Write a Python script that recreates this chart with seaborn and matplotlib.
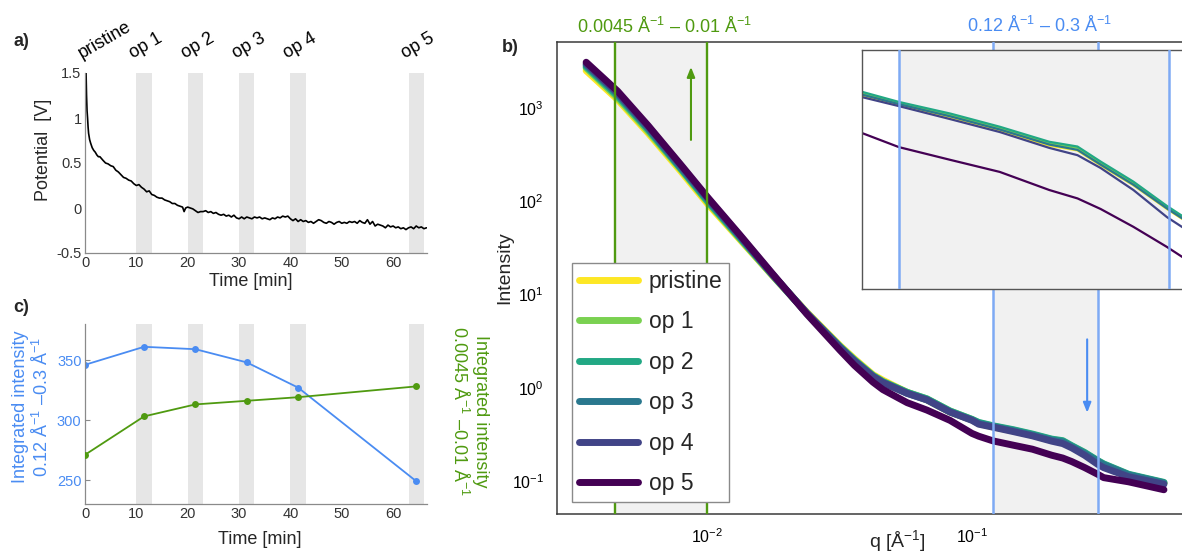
import numpy as np
import pandas as pd
import matplotlib
matplotlib.use("Agg")
import matplotlib.pyplot as plt
import matplotlib.transforms as mtransforms
from matplotlib.lines import Line2D
from matplotlib.ticker import (FixedLocator, FuncFormatter, LogLocator,
                               NullFormatter, LogFormatterSciNotation)
import seaborn as sns

sns.set_style("white")
plt.rcParams["font.family"] = ["Liberation Sans", "DejaVu Sans"]
plt.rcParams["mathtext.fontset"] = "custom"
plt.rcParams["mathtext.rm"] = "Liberation Sans"
plt.rcParams["mathtext.it"] = "Liberation Sans:italic"
plt.rcParams["mathtext.bf"] = "Liberation Sans:bold"
plt.rcParams["axes.unicode_minus"] = False

# ---------------- data ----------------
# (a) cell potential during the operation sequence
time_min = [0.2, 0.3, 0.4, 0.5, 0.6, 0.7, 0.9, 1.1, 1.4, 1.7, 2.0, 2.3, 2.6, 2.9, 3.2, 3.5,
            4.0, 4.5, 5.0, 5.5, 6.0, 6.5, 7.0, 7.5, 8.0, 8.5, 9.0, 9.5, 10.0, 10.5, 11.0, 11.5,
            12.0, 12.5, 13.0, 13.5, 14.0, 14.5, 15.0, 15.5, 16.0, 16.5, 17.0, 17.5, 18.0, 18.5,
            19.0, 19.3, 19.6, 20.0, 20.5, 21.0, 21.5, 22.0, 22.5, 23.0, 23.5, 24.0, 24.5, 25.0,
            25.5, 26.0, 26.5, 27.0, 27.5, 28.0, 28.5, 29.0, 29.5, 30.0, 30.5, 31.0, 31.5, 32.0,
            32.5, 33.0, 33.5, 34.0, 34.5, 35.0, 35.5, 36.0, 36.5, 37.0, 37.5, 38.0, 38.5, 39.0,
            39.5, 40.0, 40.5, 41.0, 41.5, 42.0, 42.5, 43.0, 43.5, 44.0, 44.5, 45.0, 45.5, 46.0,
            46.5, 47.0, 47.5, 48.0, 48.5, 49.0, 49.5, 50.0, 50.5, 51.0, 51.5, 52.0, 52.5, 53.0,
            53.5, 54.0, 54.5, 55.0, 55.5, 56.0, 56.5, 57.0, 57.5, 58.0, 58.5, 59.0, 59.5, 60.0,
            60.5, 61.0, 61.5, 62.0, 62.5, 63.0, 63.5, 64.0, 64.5, 65.0, 65.5, 66.0, 66.5]
potential_v = [1.52, 1.25, 1.08, 1.00, 0.90, 0.83, 0.76, 0.72, 0.67, 0.64, 0.62, 0.59, 0.57, 0.57, 0.55, 0.53,
               0.50, 0.49, 0.47, 0.46, 0.42, 0.40, 0.37, 0.34, 0.33, 0.31, 0.30, 0.27, 0.25, 0.26, 0.23, 0.21,
               0.18, 0.19, 0.15, 0.14, 0.12, 0.11, 0.11, 0.09, 0.08, 0.07, 0.05, 0.05, 0.03, 0.02,
               0.01, -0.04, 0.00, 0.01, 0.00, -0.01, -0.03, -0.05, -0.04, -0.04, -0.03, -0.05, -0.04, -0.06,
               -0.05, -0.07, -0.08, -0.07, -0.09, -0.08, -0.10, -0.08, -0.11, -0.12, -0.10, -0.12, -0.10, -0.11,
               -0.12, -0.10, -0.11, -0.10, -0.12, -0.11, -0.12, -0.13, -0.11, -0.12, -0.10, -0.11, -0.09, -0.10,
               -0.09, -0.12, -0.14, -0.12, -0.15, -0.13, -0.15, -0.14, -0.16, -0.15, -0.17, -0.15, -0.13, -0.14,
               -0.16, -0.17, -0.15, -0.16, -0.18, -0.16, -0.15, -0.17, -0.16, -0.17, -0.15, -0.16, -0.15, -0.17,
               -0.14, -0.16, -0.17, -0.13, -0.18, -0.15, -0.20, -0.18, -0.19, -0.20, -0.22, -0.19, -0.21, -0.20,
               -0.22, -0.21, -0.23, -0.22, -0.24, -0.22, -0.21, -0.23, -0.20, -0.22, -0.21, -0.23, -0.22]

# operation windows [min]
op_start = [10, 20, 30, 40, 63]
op_end = [13, 23, 33, 43, 66]
scan_names = ["pristine", "op 1", "op 2", "op 3", "op 4", "op 5"]

# (c) integrated intensities per scan
scan_time = [0, 11.5, 21.5, 31.5, 41.5, 64.5]
int_high_q = [346, 361, 359, 348, 327, 249]   # 0.12 - 0.3 1/A
int_low_q = [271, 303, 313, 316, 319, 328]    # 0.0045 - 0.01 1/A

# (b) SAXS curves, log10 of intensity at each q [1/A]
q_values = [0.0035, 0.0046, 0.006, 0.008, 0.010, 0.0133, 0.0177, 0.0238, 0.0318, 0.036,
            0.0423, 0.0461, 0.0569, 0.0676, 0.0826, 0.100, 0.106, 0.120, 0.143, 0.169,
            0.200, 0.220, 0.238, 0.266, 0.298, 0.314, 0.39, 0.53]
log_i_pristine = [3.40, 3.09, 2.73, 2.315, 1.98, 1.59, 1.20, 0.81, 0.45, 0.31,
                  0.14, 0.08, -0.05, -0.13, -0.26, -0.345, -0.385, -0.420, -0.463, -0.510,
                  -0.565, -0.582, -0.636, -0.707, -0.792, -0.828, -0.935, -1.025]
log_i_op1 = [3.43, 3.11, 2.75, 2.335, 2.00, 1.60, 1.20, 0.80, 0.44, 0.30,
             0.13, 0.065, -0.05, -0.12, -0.25, -0.34, -0.376, -0.412, -0.455, -0.502,
             -0.556, -0.573, -0.627, -0.699, -0.785, -0.821, -0.933, -1.019]
log_i_op2 = [3.445, 3.13, 2.77, 2.345, 2.01, 1.61, 1.21, 0.80, 0.44, 0.295,
             0.13, 0.065, -0.05, -0.12, -0.25, -0.34, -0.372, -0.408, -0.450, -0.497,
             -0.551, -0.568, -0.622, -0.694, -0.781, -0.817, -0.928, -1.015]
log_i_op3 = [3.46, 3.15, 2.78, 2.355, 2.03, 1.62, 1.21, 0.80, 0.43, 0.29,
             0.12, 0.055, -0.06, -0.13, -0.26, -0.345, -0.382, -0.416, -0.460, -0.507,
             -0.561, -0.580, -0.633, -0.705, -0.790, -0.826, -0.935, -1.022]
log_i_op4 = [3.475, 3.16, 2.80, 2.375, 2.04, 1.63, 1.21, 0.80, 0.43, 0.285,
             0.12, 0.055, -0.06, -0.13, -0.26, -0.35, -0.391, -0.423, -0.470, -0.516,
             -0.573, -0.599, -0.645, -0.724, -0.821, -0.857, -0.955, -1.035]
log_i_op5 = [3.49, 3.18, 2.81, 2.385, 2.05, 1.64, 1.22, 0.79, 0.40, 0.24,
             0.06, -0.02, -0.16, -0.24, -0.35, -0.49, -0.520, -0.570, -0.616, -0.659,
             -0.724, -0.754, -0.792, -0.856, -0.928, -0.964, -1.009, -1.094]
log_curves = [log_i_pristine, log_i_op1, log_i_op2, log_i_op3, log_i_op4, log_i_op5]

# integration windows [1/A]
low_q_window = [0.0045, 0.01]
high_q_window = [0.12, 0.3]

# ---------------- styling ----------------
W, H = 1182, 555
VIRIDIS6 = ["#fde725", "#7ad151", "#22a884", "#2a788e", "#414487", "#440154"]
BLUE = "#4a8cf2"
BLUE_LINE = "#7eaaf4"
GREEN = "#4f9a10"
BAND = "#e6e6e6"
SHADE = "#f1f1f1"
SPINE = "#8a8a8a"
TICKTXT = "#333333"


def fx(px):
    return px / W


def fy(py):
    return 1 - py / H


fig = plt.figure(figsize=(W / 100, H / 100), dpi=100)
fig.patch.set_facecolor("white")


def matlab_axes(ax):
    for side in ("top", "right"):
        ax.spines[side].set_visible(False)
    for side in ("left", "bottom"):
        ax.spines[side].set_color(SPINE)
        ax.spines[side].set_linewidth(0.9)
    ax.tick_params(direction="in", length=3.5, width=0.8, color=SPINE,
                   labelsize=10.5, labelcolor=TICKTXT, pad=2.5)
    ax.set_xlim(0, 66.6)
    ax.xaxis.set_major_locator(FixedLocator([0, 10, 20, 30, 40, 50, 60]))
    ax.set_facecolor("white")
    for s, e in zip(op_start, op_end):
        ax.axvspan(s, e, color=BAND, lw=0, zorder=0)


# ---------------- panel a ----------------
ax_a = fig.add_axes([fx(85), fy(253), fx(342), 180 / H])
matlab_axes(ax_a)
sns.lineplot(x=time_min, y=potential_v, color="black", lw=1.2, sort=False,
             estimator=None, ax=ax_a)
ax_a.set_ylim(-0.5, 1.5)
ax_a.yaxis.set_major_locator(FixedLocator([-0.5, 0, 0.5, 1, 1.5]))
ax_a.yaxis.set_major_formatter(FuncFormatter(lambda v, p: f"{v:g}"))
ax_a.set_xlabel("")
ax_a.set_ylabel("")
label_anchor = [0] + op_start
trans_a = mtransforms.blended_transform_factory(ax_a.transData, ax_a.transAxes)
for name, t0 in zip(scan_names, label_anchor):
    ax_a.text(t0 - 0.6, 1.08, name, transform=trans_a, rotation=30,
              rotation_mode="anchor", ha="left", va="baseline", fontsize=13,
              color="black", clip_on=False)
fig.text(fx(251), fy(281), "Time [min]", ha="center", va="center", fontsize=13)
fig.text(fx(43), fy(150), "Potential  [V]", rotation=90, ha="center",
         va="center", fontsize=13)
fig.text(fx(13), fy(42), "a)", ha="left", va="center", fontsize=13,
         fontweight="bold")

# ---------------- panel c ----------------
ax_c = fig.add_axes([fx(85), fy(504), fx(342), 180 / H])
matlab_axes(ax_c)
sns.lineplot(x=scan_time, y=int_high_q, color=BLUE, lw=1.3, marker="o",
             markersize=5, markeredgewidth=0, ax=ax_c)
ax_c.set_ylim(230, 380)
ax_c.yaxis.set_major_locator(FixedLocator([250, 300, 350]))
ax_c.tick_params(axis="y", labelcolor=BLUE)
ax_c.set_xlabel("")
ax_c.set_ylabel("")
ax_c2 = ax_c.twinx()
sns.lineplot(x=scan_time, y=int_low_q, color=GREEN, lw=1.3, marker="o",
             markersize=5, markeredgewidth=0, ax=ax_c2)
ax_c2.set_ylim(230, 380)
ax_c2.set_xlim(0, 66.6)
for side in ax_c2.spines:
    ax_c2.spines[side].set_visible(False)
ax_c2.tick_params(right=False, labelright=False)
ax_c2.set_ylabel("")
fig.text(fx(260), fy(539), "Time [min]", ha="center", va="center", fontsize=13)
fig.text(fx(32), fy(407),
         "Integrated intensity\n0.12 Å$^{-1}$ –0.3 Å$^{-1}$",
         rotation=90, ha="center", va="center", fontsize=13, color=BLUE,
         linespacing=1.2)
fig.text(fx(469), fy(411),
         "Integrated intensity\n0.0045 Å$^{-1}$ –0.01 Å$^{-1}$",
         rotation=270, ha="center", va="center", fontsize=13, color=GREEN,
         linespacing=1.2)
fig.text(fx(13), fy(308), "c)", ha="left", va="center", fontsize=13,
         fontweight="bold")

# ---------------- panel b ----------------
frames = []
for name, logs in zip(scan_names, log_curves):
    frames.append(pd.DataFrame({"q": q_values,
                                "I": np.power(10.0, np.array(logs)),
                                "scan": name}))
saxs = pd.concat(frames, ignore_index=True)
palette = dict(zip(scan_names, VIRIDIS6))

ax_b = fig.add_axes([fx(557), fy(514), 680 / W, 472 / H])
ax_b.set_xscale("log")
ax_b.set_yscale("log")
ax_b.axvspan(*low_q_window, color=SHADE, lw=0, zorder=0)
ax_b.axvspan(*high_q_window, color=SHADE, lw=0, zorder=0)
sns.lineplot(data=saxs, x="q", y="I", hue="scan", palette=palette,
             hue_order=scan_names, lw=5, estimator=None, sort=False,
             legend=False, ax=ax_b, solid_capstyle="round")
for qv in low_q_window:
    ax_b.axvline(qv, color=GREEN, lw=1.7, zorder=5)
for qv in high_q_window:
    ax_b.axvline(qv, color=BLUE_LINE, lw=1.8, zorder=5)
ax_b.set_xlim(10 ** -2.566, 1.0)
ax_b.set_ylim(10 ** -1.354, 10 ** 3.707)
ax_b.xaxis.set_major_locator(FixedLocator([0.01, 0.1]))
ax_b.xaxis.set_major_formatter(LogFormatterSciNotation())
ax_b.xaxis.set_minor_locator(LogLocator(base=10, subs=np.arange(2, 10)))
ax_b.yaxis.set_major_locator(LogLocator(base=10))
ax_b.yaxis.set_minor_locator(LogLocator(base=10, subs=np.arange(2, 10)))
ax_b.xaxis.set_minor_formatter(NullFormatter())
ax_b.yaxis.set_minor_formatter(NullFormatter())
for side in ax_b.spines:
    ax_b.spines[side].set_color("#3a3a3a")
    ax_b.spines[side].set_linewidth(1.1)
ax_b.tick_params(which="both", direction="out", color="#3a3a3a",
                 labelsize=11.5, labelcolor="black", pad=5)
ax_b.tick_params(which="major", length=4.5, width=1)
ax_b.tick_params(which="minor", length=2.8, width=0.8)
ax_b.set_xlabel("")
ax_b.set_ylabel("")
ax_b.set_facecolor("white")

ax_b.annotate("", xy=(0.0087, 2750), xytext=(0.0087, 454),
              arrowprops=dict(arrowstyle="-|>,head_length=0.45,head_width=0.18",
                              color=GREEN, lw=1.5, mutation_scale=13,
                              shrinkA=0, shrinkB=0))
ax_b.annotate("", xy=(0.272, 0.54), xytext=(0.272, 3.3),
              arrowprops=dict(arrowstyle="-|>,head_length=0.45,head_width=0.18",
                              color=BLUE, lw=1.5, mutation_scale=13,
                              shrinkA=0, shrinkB=0))

handles = [Line2D([0], [0], color=c, lw=5) for c in VIRIDIS6]
leg = ax_b.legend(handles, scan_names, loc="upper left",
                  bbox_to_anchor=(fx(572), fy(263)),
                  bbox_transform=fig.transFigure, fontsize=16.5,
                  frameon=True, fancybox=False, framealpha=1,
                  edgecolor="#8a8a8a", borderpad=0.3, labelspacing=0.76,
                  handlelength=2.6, handletextpad=0.45, borderaxespad=0)
leg.get_frame().set_linewidth(1.0)
leg.set_zorder(10)

fig.text(fx(505), fy(268), "Intensity", rotation=90, ha="center",
         va="center", fontsize=14)
fig.text(fx(897), fy(541), "q [Å$^{-1}$]", ha="center", va="center",
         fontsize=14)
fig.text(fx(502), fy(48), "b)", ha="left", va="center", fontsize=13,
         fontweight="bold")
fig.text(fx(665), fy(27), "0.0045 Å$^{-1}$ – 0.01 Å$^{-1}$", ha="center",
         va="center", fontsize=13, color=GREEN)
fig.text(fx(1040), fy(26), "0.12 Å$^{-1}$ – 0.3 Å$^{-1}$", ha="center",
         va="center", fontsize=13, color=BLUE)

# ---------------- inset: high-q window ----------------
ax_in = fig.add_axes([fx(862), fy(289), 338 / W, 239 / H])
ax_in.set_xscale("log")
ax_in.set_yscale("log")
ax_in.set_facecolor("white")
ax_in.axvspan(*high_q_window, color=SHADE, lw=0, zorder=0)
sns.lineplot(data=saxs, x="q", y="I", hue="scan", palette=palette,
             hue_order=scan_names, lw=1.6, estimator=None, sort=False,
             legend=False, ax=ax_in)
for qv in high_q_window:
    ax_in.axvline(qv, color=BLUE_LINE, lw=1.8, zorder=5)
ax_in.set_xlim(0.1059, 0.3334)
ax_in.set_ylim(0.0834, 0.600)
for axis in (ax_in.xaxis, ax_in.yaxis):
    axis.set_major_formatter(NullFormatter())
    axis.set_minor_formatter(NullFormatter())
for side in ax_in.spines:
    ax_in.spines[side].set_color("#555555")
    ax_in.spines[side].set_linewidth(1.0)
ax_in.tick_params(which="both", direction="in", length=2.5, color="#555555",
                  labelleft=False, labelbottom=False)
ax_in.set_xlabel("")
ax_in.set_ylabel("")

fig.savefig("out.png", dpi=100, facecolor="white")
